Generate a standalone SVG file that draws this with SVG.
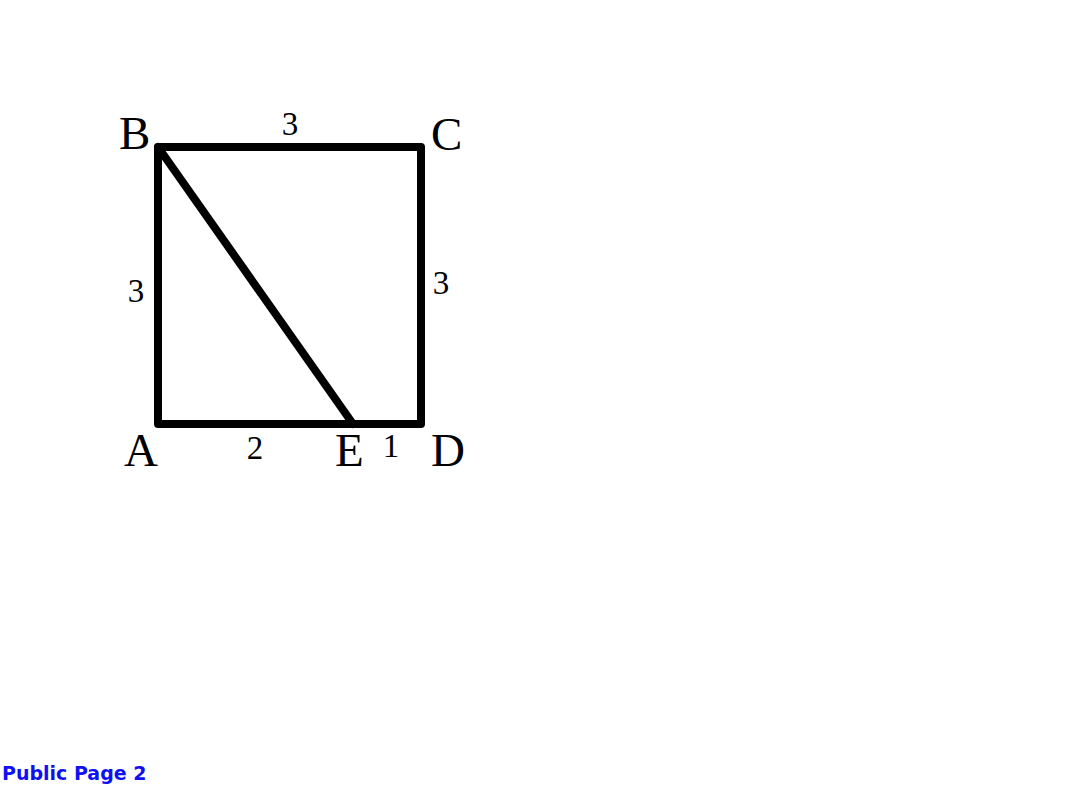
<svg xmlns="http://www.w3.org/2000/svg" width="1068" height="800" viewBox="0 0 1068 800">
<style>
.edge{fill:none;stroke:#000;stroke-width:8;stroke-linejoin:round;stroke-linecap:round}
.lbl{font-family:"Liberation Serif","Times New Roman",serif;font-size:47px;fill:#000}
.num{font-family:"Liberation Serif","Times New Roman",serif;font-size:33px;fill:#000;text-anchor:middle}
.foot{font-family:"DejaVu Sans","Verdana",sans-serif;font-weight:bold;font-size:19px;fill:#1010f5}
</style>
<rect width="1068" height="800" fill="#fff"/>
<g id="connectors">
<path class="edge" d="M158,147 L421,147 L421,424 L158,424 Z"/>
<line class="edge" x1="158" y1="147" x2="353" y2="424"/>
</g>
<g id="node-B"><text class="lbl" x="119" y="149">B</text></g>
<g id="node-C"><text class="lbl" x="431" y="150">C</text></g>
<g id="node-A"><text class="lbl" x="124" y="466">A</text></g>
<g id="node-E"><text class="lbl" x="335" y="466">E</text></g>
<g id="node-D"><text class="lbl" x="431" y="466">D</text></g>
<g id="labels">
<text class="num" x="290" y="135">3</text>
<text class="num" x="136" y="302">3</text>
<text class="num" x="441" y="294">3</text>
<text class="num" x="255" y="459">2</text>
<text class="num" x="391" y="457">1</text>
</g>
<g id="footer"><text class="foot" x="2" y="780">Public Page 2</text></g>
</svg>
